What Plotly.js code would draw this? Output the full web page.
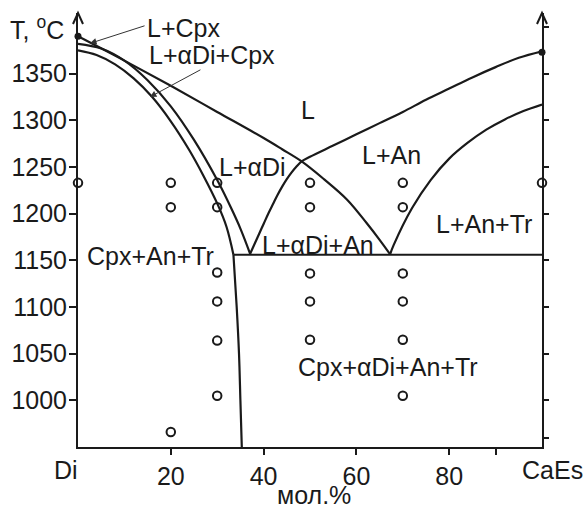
<!DOCTYPE html>
<html>
<head>
<meta charset="utf-8">
<script src="https://cdn.plot.ly/plotly-3.0.1.min.js"></script>
<style>html,body{margin:0;padding:0;background:#fff;}</style>
</head>
<body>
<div id="chart" style="width:588px;height:514px;"></div>
<script>
// ---- data (composition, mol.% CaEs ; temperature, °C) ----
const liqDiX = [0, 10, 20, 30, 40, 44, 48.2, 53, 58, 62.2, 65, 67.2];
const liqDiY = [1390, 1364, 1337, 1309, 1281, 1269, 1256, 1237, 1215, 1190, 1172, 1157];

const liqAnX = [100, 95, 90, 85, 80, 75, 70, 65, 60, 55, 50, 48.2, 47, 46, 45, 44, 43, 42, 41, 40, 39, 38, 37.1];
const liqAnY = [1374, 1367, 1357, 1346, 1334, 1322, 1309, 1297, 1285, 1273, 1261, 1256, 1250, 1244, 1237, 1229, 1220, 1210, 1200, 1189, 1178, 1167, 1157];

const liqTrX = [100, 96, 92, 88, 84, 80, 76, 72, 68, 67.3];
const liqTrY = [1317, 1310, 1301, 1290, 1276, 1259, 1236, 1206, 1166, 1157];

const cpxLiqX = [0, 5, 10, 15, 20, 25, 30, 33, 35, 37.1];
const cpxLiqY = [1382, 1377, 1364, 1343, 1315, 1279, 1236, 1206, 1184, 1157];

const solidusX = [0, 4, 8, 12, 16, 20, 24, 27, 30, 32, 33.5];
const solidusY = [1375, 1370, 1360, 1345, 1325, 1299, 1268, 1241, 1211, 1186, 1156];

const solvusX = [33.5, 34.2, 34.7, 35.0, 35.3];
const solvusY = [1156, 1100, 1050, 1000, 950];

const eutecticX = [33.5, 100];
const eutecticY = [1156, 1156];

const meltX = [0, 100];
const meltY = [1390, 1373];

const sampleX = [0, 20, 20, 20, 30, 30, 30, 30, 30, 30, 50, 50, 50, 50, 50, 70, 70, 70, 70, 70, 70, 100];
const sampleY = [1233, 1233, 1207, 966, 1233, 1207, 1137, 1106, 1064, 1005, 1233, 1207, 1136, 1106, 1065, 1233, 1207, 1136, 1106, 1065, 1005, 1233];

const xTickVals = [20, 40, 60, 80, 90];
const xTickText = ['20', '40', '60', '80', ''];
const yTickVals = [1000, 1050, 1100, 1150, 1200, 1250, 1300, 1350];
const y2TickVals = [960, 1000, 1050, 1100, 1150, 1200, 1250, 1300, 1350, 1400];

const phaseLabels = ['L+Cpx', 'L+αDi+Cpx', 'L', 'L+αDi', 'L+An', 'L+An+Tr', 'L+αDi+An', 'Cpx+An+Tr', 'Cpx+αDi+An+Tr'];
const phaseLabelX = [22.8, 28.8, 49.5, 37.7, 67.5, 87.5, 51.7, 15.7, 66.8];
const phaseLabelY = [1399, 1370, 1311, 1250, 1263, 1189, 1166, 1155, 1036];

// ---- styling ----
const INK = '#1a1a1a';
const FONT = 'Liberation Sans, Arial, Helvetica, sans-serif';
const lineStyle = {color: INK, width: 2.2, shape: 'spline', smoothing: 1};

function curve(x, y, yaxis) {
  return {x: x, y: y, mode: 'lines', line: lineStyle, hoverinfo: 'skip', showlegend: false, cliponaxis: false, yaxis: yaxis || 'y'};
}

const traces = [
  curve(liqDiX, liqDiY),
  curve(liqAnX, liqAnY),
  curve(liqTrX, liqTrY),
  curve(cpxLiqX, cpxLiqY),
  curve(solidusX, solidusY),
  curve(solvusX, solvusY),
  {x: eutecticX, y: eutecticY, mode: 'lines', line: {color: INK, width: 2.2}, showlegend: false, hoverinfo: 'skip'},
  {x: sampleX, y: sampleY, mode: 'markers', cliponaxis: false, showlegend: false,
   marker: {symbol: 'circle-open', size: 8.5, color: INK, line: {width: 2, color: INK}}},
  {x: meltX, y: meltY, mode: 'markers', cliponaxis: false, showlegend: false, yaxis: 'y2',
   marker: {symbol: 'circle', size: 7, color: INK}}
];

const annotations = phaseLabels.map((t, i) => ({
  text: t, x: phaseLabelX[i], y: phaseLabelY[i], xref: 'x', yref: 'y',
  showarrow: false, font: {family: FONT, size: 25, color: INK}
}));

const axFont = {family: FONT, size: 25, color: INK};
annotations.push(
  {text: '', x: 2.6, y: 1382.5, xref: 'x', yref: 'y', showarrow: true, ax: 56, ay: -18,
   arrowhead: 2, arrowsize: 1.3, arrowwidth: 1, arrowcolor: '#333'},
  {text: '', x: 15.5, y: 1325, xref: 'x', yref: 'y', showarrow: true, ax: 52, ay: -28,
   arrowhead: 2, arrowsize: 1.3, arrowwidth: 1, arrowcolor: '#333'},
  {text: 'Di', x: -0.0248, y: -0.053, xref: 'paper', yref: 'paper', xanchor: 'center', yanchor: 'middle', showarrow: false, font: axFont},
  {text: 'CaEs', x: 1.0237, y: -0.053, xref: 'paper', yref: 'paper', xanchor: 'center', yanchor: 'middle', showarrow: false, font: axFont},
  {text: 'мол.%', x: 0.5086, y: -0.1106, xref: 'paper', yref: 'paper', xanchor: 'center', yanchor: 'middle', showarrow: false, font: axFont},
  {text: 'T, <sup>o</sup>C', x: -0.151, xanchor: 'left', y: 0.965, yanchor: 'middle', xref: 'paper', yref: 'paper',
   showarrow: false, font: axFont}
);

const arrowPath = 'M-5,-11 L0,0 L5,-11';
const shapes = [
  {type: 'path', xref: 'paper', yref: 'paper', xsizemode: 'pixel', ysizemode: 'pixel', xanchor: 0, yanchor: 1,
   path: arrowPath, line: {color: INK, width: 2}},
  {type: 'path', xref: 'paper', yref: 'paper', xsizemode: 'pixel', ysizemode: 'pixel', xanchor: 1, yanchor: 1,
   path: arrowPath, line: {color: INK, width: 2}}
];

const axisCommon = {showgrid: false, zeroline: false, showline: true, linecolor: INK, linewidth: 2,
  ticks: 'outside', tickcolor: INK, tickwidth: 2, tickfont: axFont};

const layout = {
  width: 588, height: 514,
  margin: {l: 78, r: 46, t: 13, b: 67, pad: 0},
  paper_bgcolor: '#fff', plot_bgcolor: '#fff',
  showlegend: false,
  xaxis: Object.assign({}, axisCommon, {range: [0, 100], tickmode: 'array', tickvals: xTickVals, ticktext: xTickText, ticklen: 6}),
  yaxis: Object.assign({}, axisCommon, {range: [950, 1415], tickmode: 'array', tickvals: yTickVals, ticklen: 7, ticklabelstandoff: -3}),
  yaxis2: Object.assign({}, axisCommon, {range: [950, 1415], overlaying: 'y', side: 'right', tickmode: 'array',
    tickvals: y2TickVals, ticklen: 5, showticklabels: false}),
  annotations: annotations,
  shapes: shapes
};

Plotly.newPlot('chart', traces, layout, {displayModeBar: false, staticPlot: true});
</script>
</body>
</html>
